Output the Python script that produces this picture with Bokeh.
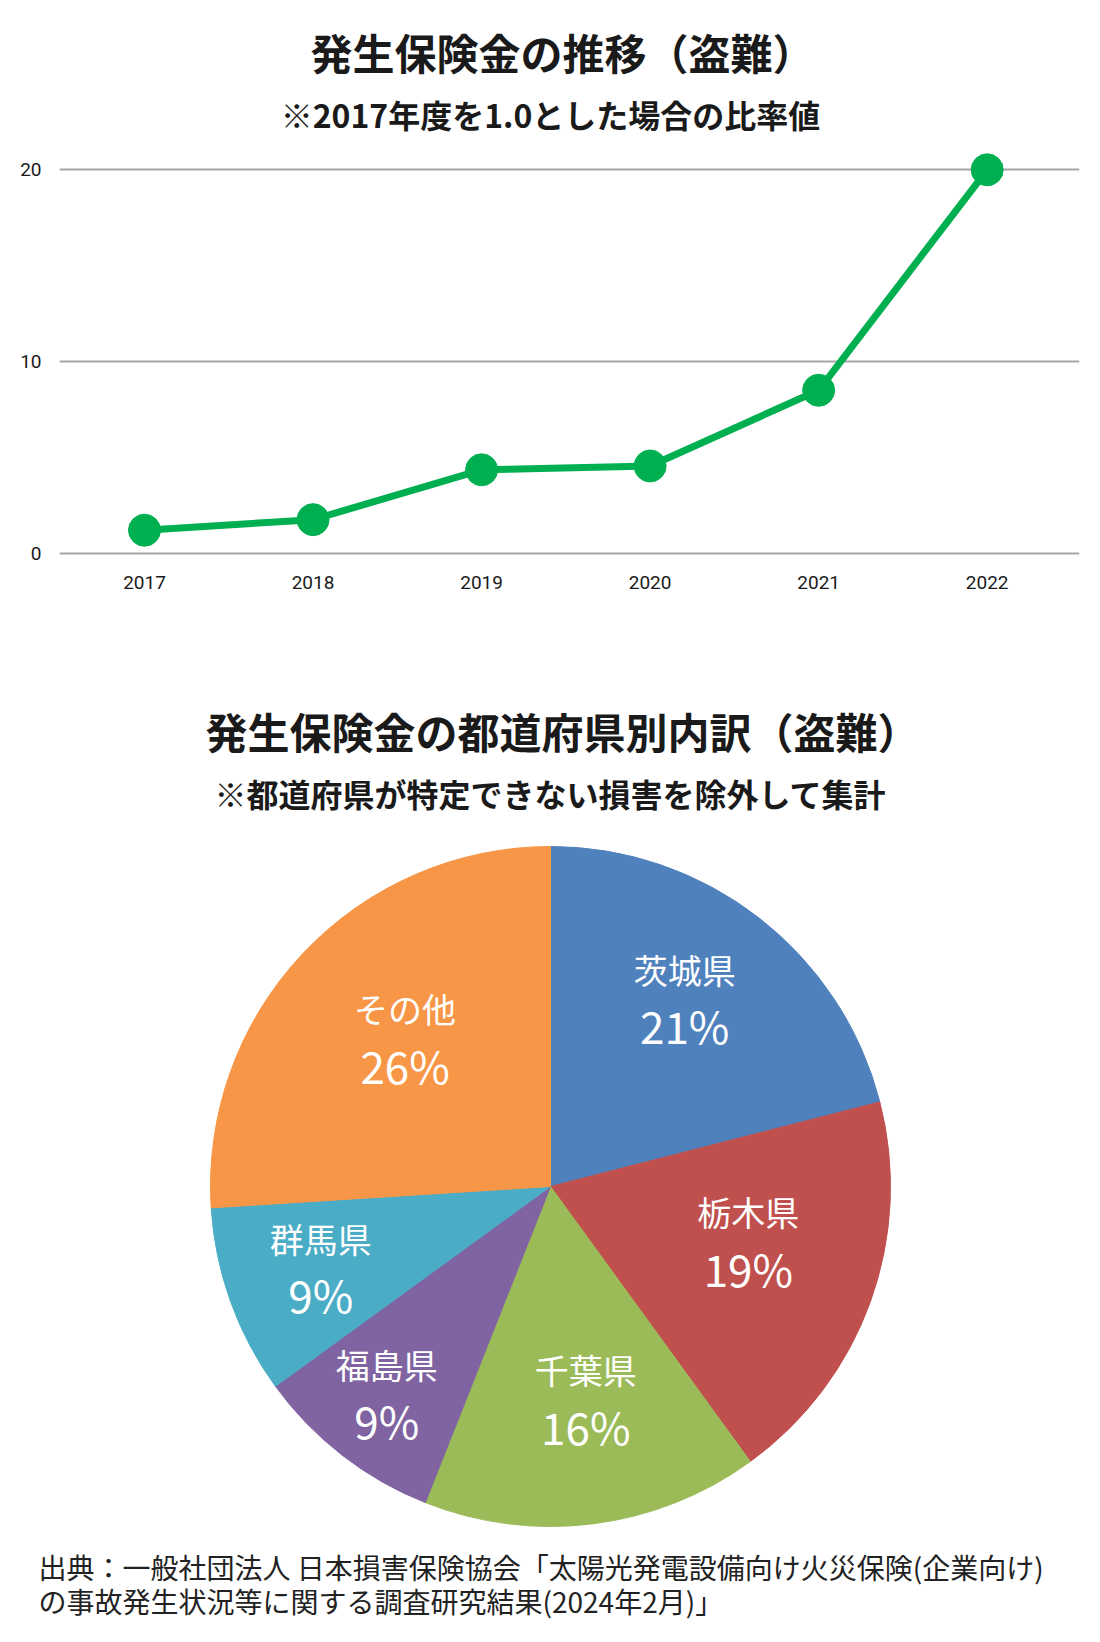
import math
from bokeh.plotting import figure
from bokeh.models import Range1d, FixedTicker
from bokeh.core.properties import value
from bokeh.embed import file_html
from bokeh.resources import INLINE

# ---------------- data ----------------
years = ["2017", "2018", "2019", "2020", "2021", "2022"]
ratio = [1.2, 1.75, 4.35, 4.55, 8.5, 20.0]
y_ticks = [0, 10, 20]

prefs = ["茨城県", "栃木県", "千葉県", "福島県", "群馬県", "その他"]
shares = [21, 19, 16, 9, 9, 26]

title1 = "発生保険金の推移（盗難）"
sub1 = "※2017年度を1.0とした場合の比率値"
title2 = "発生保険金の都道府県別内訳（盗難）"
sub2 = "※都道府県が特定できない損害を除外して集計"
source1 = "出典：一般社団法人 日本損害保険協会「太陽光発電設備向け火災保険(企業向け)"
source2 = "の事故発生状況等に関する調査研究結果(2024年2月)」"

# ---------------- styles ----------------
colors = ["#4F81BD", "#C0504D", "#9BBB59", "#8064A2", "#4BACC6", "#F79646"]
label_rfrac = [0.673, 0.606, 0.641, 0.782, 0.719, 0.606]   # label distance / radius
label_dang = [-1.9, -3.6, -2.1, 0.2, -0.2, 1.9]            # label angle nudge, degrees
JP = "Noto Sans CJK JP"
NUM = "Roboto"
DARK = "#1a1a1a"
GREEN = "#00B050"
W = 1100
OFF = 0          # the page template has no body margin
TX_TITLE = 562   # horizontal ink centre of the titles, page px
TX_SUB = 550     # horizontal ink centre of the sub-titles, page px

# ---------------- line chart ----------------
FL, FR, FT, FB = 59, 1079, 8, 564       # frame edges, page px
X0P, X5P = 144, 986.7                   # first / last category centre, page px
Y0P, Y20P = 552.7, 169.3                # y=0 / y=20, page px
xpx = (X5P - X0P) / 5
ypx = (Y0P - Y20P) / 20


def xd(px):
    return (px - X0P) / xpx


def yd(py):
    return (Y0P - py) / ypx


H1 = 624
p1 = figure(width=W, height=H1,
            x_range=Range1d(xd(FL), xd(FR)), y_range=Range1d(yd(FB), yd(FT)),
            min_border_left=FL - OFF, min_border_right=OFF + W - FR,
            min_border_top=FT - OFF, min_border_bottom=H1 - (FB - OFF),
            output_backend="svg", toolbar_location=None)
p1.outline_line_color = None
p1.xgrid.visible = False
p1.ygrid.ticker = FixedTicker(ticks=y_ticks)
p1.ygrid.grid_line_color = "#a6a6a6"
p1.ygrid.grid_line_width = 2

p1.yaxis.ticker = FixedTicker(ticks=y_ticks)
p1.xaxis.ticker = FixedTicker(ticks=list(range(len(years))))
p1.xaxis.major_label_overrides = {i: y for i, y in enumerate(years)}
for ax in (p1.xaxis, p1.yaxis):
    ax.axis_line_color = None
    ax.major_tick_line_color = None
    ax.minor_tick_line_color = None
    ax.major_tick_out = 0
    ax.major_tick_in = 0
    ax.minor_tick_out = 0
    ax.minor_tick_in = 0
    ax.major_label_text_font = NUM
    ax.major_label_text_font_size = "19px"
    ax.major_label_text_color = DARK
p1.yaxis.major_label_standoff = 18
p1.xaxis.major_label_standoff = 11

xs = list(range(len(years)))
p1.line(x=xs, y=ratio, line_color=GREEN, line_width=7)
p1.scatter(x=xs, y=ratio, size=32, fill_color=GREEN, line_color=GREEN)

p1.text(x=[xd(TX_TITLE)], y=[yd(51)], text=[title1], text_font=value(JP),
        text_font_size="42px", text_font_style="bold", text_color=DARK,
        text_align="center", text_baseline="middle")
p1.text(x=[xd(TX_SUB)], y=[yd(113)], text=[sub1], text_font=value(JP),
        text_font_size="32px", text_font_style="bold", text_color=DARK,
        text_align="center", text_baseline="middle")

# ---------------- pie chart ----------------
P2T = OFF + H1
H2 = 1010


def y2(py):
    return P2T + H2 - py


p2 = figure(width=W, height=H2, x_range=Range1d(OFF, OFF + W), y_range=Range1d(0, H2),
            min_border=0, x_axis_type=None, y_axis_type=None,
            output_backend="svg", toolbar_location=None)
p2.outline_line_color = None
p2.grid.visible = False

CX, CY, R = 550, 1186, 340
total = float(sum(shares))
cum = 0.0
starts, ends, lx, ly_name, ly_pct = [], [], [], [], []
for v, fr, da in zip(shares, label_rfrac, label_dang):
    a0 = cum / total
    a1 = (cum + v) / total
    starts.append(math.pi / 2 - 2 * math.pi * a0)
    ends.append(math.pi / 2 - 2 * math.pi * a1)
    th = 2 * math.pi * (a0 + a1) / 2 + math.radians(da)
    r = fr * R
    lx.append(CX + r * math.sin(th))
    py = CY - r * math.cos(th)
    ly_name.append(y2(py - 32))
    ly_pct.append(y2(py + 24))
    cum += v

p2.wedge(x=CX, y=y2(CY), radius=R, start_angle=starts, end_angle=ends,
         direction="clock", fill_color=colors, line_color=colors, line_width=1)

p2.text(x=lx, y=ly_name, text=prefs, text_font=value(JP), text_font_size="34px",
        text_color="white", text_align="center", text_baseline="middle")
p2.text(x=lx, y=ly_pct, text=[f"{v}%" for v in shares], text_font=value(JP),
        text_font_size="44px", text_color="white", text_align="center",
        text_baseline="middle")

p2.text(x=[TX_TITLE], y=[y2(730)], text=[title2], text_font=value(JP),
        text_font_size="42px", text_font_style="bold", text_color=DARK,
        text_align="center", text_baseline="middle")
p2.text(x=[TX_SUB], y=[y2(792)], text=[sub2], text_font=value(JP),
        text_font_size="32px", text_font_style="bold", text_color=DARK,
        text_align="center", text_baseline="middle")

p2.text(x=[38, 38], y=[y2(1566), y2(1600)], text=[source1, source2],
        text_font=value(JP), text_font_size="28px", text_color="#222222",
        text_align="left", text_baseline="middle")

# two independent roots so that Bokeh does not align the two plot frames
open("out.html", "w").write(file_html([p1, p2], INLINE))
